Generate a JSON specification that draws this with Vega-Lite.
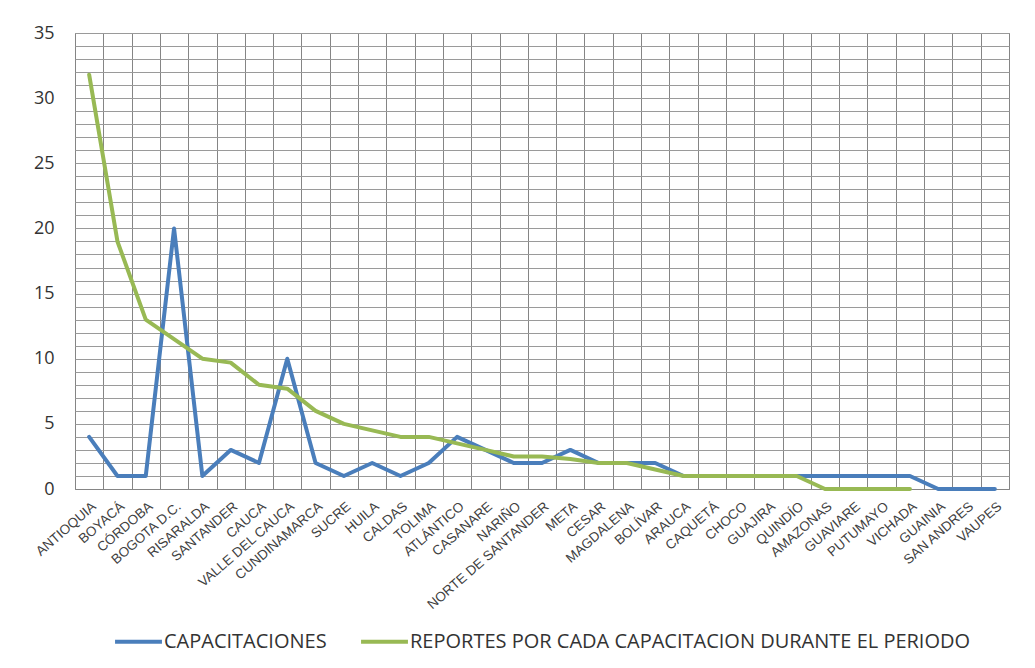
{
  "$schema": "https://vega.github.io/schema/vega-lite/v6.json",
  "width": 934,
  "height": 456,
  "padding": {"left": 33, "top": 24, "right": 20, "bottom": 10},
  "background": "white",
  "data": {
    "values": [
      {"departamento": "ANTIOQUIA", "serie": "CAPACITACIONES", "valor": 4},
      {"departamento": "BOYACÁ", "serie": "CAPACITACIONES", "valor": 1},
      {"departamento": "CÓRDOBA", "serie": "CAPACITACIONES", "valor": 1},
      {"departamento": "BOGOTA D.C.", "serie": "CAPACITACIONES", "valor": 20},
      {"departamento": "RISARALDA", "serie": "CAPACITACIONES", "valor": 1},
      {"departamento": "SANTANDER", "serie": "CAPACITACIONES", "valor": 3},
      {"departamento": "CAUCA", "serie": "CAPACITACIONES", "valor": 2},
      {"departamento": "VALLE DEL CAUCA", "serie": "CAPACITACIONES", "valor": 10},
      {"departamento": "CUNDINAMARCA", "serie": "CAPACITACIONES", "valor": 2},
      {"departamento": "SUCRE", "serie": "CAPACITACIONES", "valor": 1},
      {"departamento": "HUILA", "serie": "CAPACITACIONES", "valor": 2},
      {"departamento": "CALDAS", "serie": "CAPACITACIONES", "valor": 1},
      {"departamento": "TOLIMA", "serie": "CAPACITACIONES", "valor": 2},
      {"departamento": "ATLÁNTICO", "serie": "CAPACITACIONES", "valor": 4},
      {"departamento": "CASANARE", "serie": "CAPACITACIONES", "valor": 3},
      {"departamento": "NARIÑO", "serie": "CAPACITACIONES", "valor": 2},
      {"departamento": "NORTE DE SANTANDER", "serie": "CAPACITACIONES", "valor": 2},
      {"departamento": "META", "serie": "CAPACITACIONES", "valor": 3},
      {"departamento": "CESAR", "serie": "CAPACITACIONES", "valor": 2},
      {"departamento": "MAGDALENA", "serie": "CAPACITACIONES", "valor": 2},
      {"departamento": "BOLÍVAR", "serie": "CAPACITACIONES", "valor": 2},
      {"departamento": "ARAUCA", "serie": "CAPACITACIONES", "valor": 1},
      {"departamento": "CAQUETÁ", "serie": "CAPACITACIONES", "valor": 1},
      {"departamento": "CHOCO", "serie": "CAPACITACIONES", "valor": 1},
      {"departamento": "GUAJIRA", "serie": "CAPACITACIONES", "valor": 1},
      {"departamento": "QUINDÍO", "serie": "CAPACITACIONES", "valor": 1},
      {"departamento": "AMAZONAS", "serie": "CAPACITACIONES", "valor": 1},
      {"departamento": "GUAVIARE", "serie": "CAPACITACIONES", "valor": 1},
      {"departamento": "PUTUMAYO", "serie": "CAPACITACIONES", "valor": 1},
      {"departamento": "VICHADA", "serie": "CAPACITACIONES", "valor": 1},
      {"departamento": "GUAINIA", "serie": "CAPACITACIONES", "valor": 0},
      {"departamento": "SAN ANDRES", "serie": "CAPACITACIONES", "valor": 0},
      {"departamento": "VAUPES", "serie": "CAPACITACIONES", "valor": 0},
      {"departamento": "ANTIOQUIA", "serie": "REPORTES POR CADA CAPACITACION DURANTE EL PERIODO", "valor": 31.8},
      {"departamento": "BOYACÁ", "serie": "REPORTES POR CADA CAPACITACION DURANTE EL PERIODO", "valor": 19},
      {"departamento": "CÓRDOBA", "serie": "REPORTES POR CADA CAPACITACION DURANTE EL PERIODO", "valor": 13},
      {"departamento": "BOGOTA D.C.", "serie": "REPORTES POR CADA CAPACITACION DURANTE EL PERIODO", "valor": 11.5},
      {"departamento": "RISARALDA", "serie": "REPORTES POR CADA CAPACITACION DURANTE EL PERIODO", "valor": 10},
      {"departamento": "SANTANDER", "serie": "REPORTES POR CADA CAPACITACION DURANTE EL PERIODO", "valor": 9.7},
      {"departamento": "CAUCA", "serie": "REPORTES POR CADA CAPACITACION DURANTE EL PERIODO", "valor": 8},
      {"departamento": "VALLE DEL CAUCA", "serie": "REPORTES POR CADA CAPACITACION DURANTE EL PERIODO", "valor": 7.7},
      {"departamento": "CUNDINAMARCA", "serie": "REPORTES POR CADA CAPACITACION DURANTE EL PERIODO", "valor": 6},
      {"departamento": "SUCRE", "serie": "REPORTES POR CADA CAPACITACION DURANTE EL PERIODO", "valor": 5},
      {"departamento": "HUILA", "serie": "REPORTES POR CADA CAPACITACION DURANTE EL PERIODO", "valor": 4.5},
      {"departamento": "CALDAS", "serie": "REPORTES POR CADA CAPACITACION DURANTE EL PERIODO", "valor": 4},
      {"departamento": "TOLIMA", "serie": "REPORTES POR CADA CAPACITACION DURANTE EL PERIODO", "valor": 4},
      {"departamento": "ATLÁNTICO", "serie": "REPORTES POR CADA CAPACITACION DURANTE EL PERIODO", "valor": 3.5},
      {"departamento": "CASANARE", "serie": "REPORTES POR CADA CAPACITACION DURANTE EL PERIODO", "valor": 3},
      {"departamento": "NARIÑO", "serie": "REPORTES POR CADA CAPACITACION DURANTE EL PERIODO", "valor": 2.5},
      {"departamento": "NORTE DE SANTANDER", "serie": "REPORTES POR CADA CAPACITACION DURANTE EL PERIODO", "valor": 2.5},
      {"departamento": "META", "serie": "REPORTES POR CADA CAPACITACION DURANTE EL PERIODO", "valor": 2.3},
      {"departamento": "CESAR", "serie": "REPORTES POR CADA CAPACITACION DURANTE EL PERIODO", "valor": 2},
      {"departamento": "MAGDALENA", "serie": "REPORTES POR CADA CAPACITACION DURANTE EL PERIODO", "valor": 2},
      {"departamento": "BOLÍVAR", "serie": "REPORTES POR CADA CAPACITACION DURANTE EL PERIODO", "valor": 1.5},
      {"departamento": "ARAUCA", "serie": "REPORTES POR CADA CAPACITACION DURANTE EL PERIODO", "valor": 1},
      {"departamento": "CAQUETÁ", "serie": "REPORTES POR CADA CAPACITACION DURANTE EL PERIODO", "valor": 1},
      {"departamento": "CHOCO", "serie": "REPORTES POR CADA CAPACITACION DURANTE EL PERIODO", "valor": 1},
      {"departamento": "GUAJIRA", "serie": "REPORTES POR CADA CAPACITACION DURANTE EL PERIODO", "valor": 1},
      {"departamento": "QUINDÍO", "serie": "REPORTES POR CADA CAPACITACION DURANTE EL PERIODO", "valor": 1},
      {"departamento": "AMAZONAS", "serie": "REPORTES POR CADA CAPACITACION DURANTE EL PERIODO", "valor": 0},
      {"departamento": "GUAVIARE", "serie": "REPORTES POR CADA CAPACITACION DURANTE EL PERIODO", "valor": 0},
      {"departamento": "PUTUMAYO", "serie": "REPORTES POR CADA CAPACITACION DURANTE EL PERIODO", "valor": 0},
      {"departamento": "VICHADA", "serie": "REPORTES POR CADA CAPACITACION DURANTE EL PERIODO", "valor": 0}
    ]
  },
  "mark": {"type": "line", "strokeWidth": 4, "strokeJoin": "round", "strokeCap": "round"},
  "encoding": {
    "x": {
      "field": "departamento",
      "type": "nominal",
      "sort": null,
      "bandPosition": 0.5,
      "scale": {"type": "band", "paddingInner": 0, "paddingOuter": 0},
      "axis": {
        "title": null,
        "labelAngle": -41,
        "labelFont": "Liberation Sans",
        "labelFontSize": 13.5,
        "labelColor": "#404040",
        "labelPadding": 10,
        "ticks": false,
        "tickBand": "extent",
        "grid": true,
        "gridColor": "#858585",
        "gridWidth": 1,
        "domainColor": "#858585",
        "labelOverlap": false
      }
    },
    "y": {
      "field": "valor",
      "type": "quantitative",
      "scale": {"domain": [0, 35], "nice": false},
      "axis": {
        "title": null,
        "values": [0,1,2,3,4,5,6,7,8,9,10,11,12,13,14,15,16,17,18,19,20,21,22,23,24,25,26,27,28,29,30,31,32,33,34,35],
        "labelExpr": "datum.value % 5 === 0 ? datum.label : ''",
        "labelFont": "Open Sans",
        "labelFontSize": 18,
        "labelColor": "#333333",
        "labelPadding": 21,
        "ticks": false,
        "domain": false,
        "grid": true,
        "gridColor": "#9a9a9a",
        "gridWidth": 1,
        "minExtent": 40,
        "maxExtent": 40
      }
    },
    "color": {
      "field": "serie",
      "type": "nominal",
      "sort": null,
      "scale": {
        "domain": ["CAPACITACIONES", "REPORTES POR CADA CAPACITACION DURANTE EL PERIODO"],
        "range": ["#4A7EBB", "#98B954"]
      },
      "legend": {
        "title": null,
        "orient": "bottom",
        "direction": "horizontal",
        "symbolType": "stroke",
        "symbolSize": 2200,
        "symbolStrokeWidth": 4,
        "labelFont": "Open Sans",
        "labelFontSize": 20,
        "labelColor": "#333333",
        "labelOffset": 0,
        "labelLimit": 800,
        "columnPadding": 26,
        "offset": 4
      }
    }
  },
  "config": {
    "view": {"stroke": "#858585", "strokeWidth": 1},
    "legend": {"layout": {"bottom": {"anchor": "middle"}}}
  }
}
